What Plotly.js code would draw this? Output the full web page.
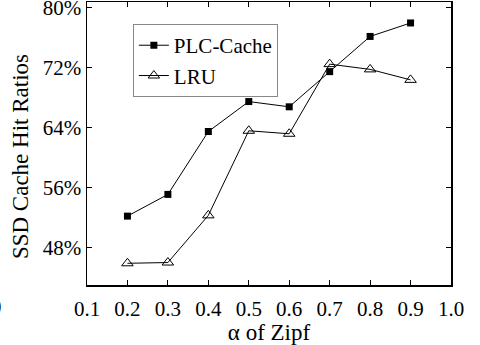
<!DOCTYPE html>
<html>
<head>
<meta charset="utf-8">
<script src="https://cdn.plot.ly/plotly-3.0.1.min.js"></script>
<style>html,body{margin:0;padding:0;background:#fff;}#chart{width:480px;height:345px;}</style>
</head>
<body>
<div id="chart"></div>
<script>
var alphaValues = [0.2, 0.3, 0.4, 0.5, 0.6, 0.7, 0.8, 0.9];
var plcCache = [52.2, 55.1, 63.5, 67.5, 66.8, 71.5, 76.2, 78.0];
var lru = [45.9, 46.0, 52.3, 63.6, 63.2, 72.5, 71.8, 70.4];
var xTickVals = [0.1, 0.2, 0.3, 0.4, 0.5, 0.6, 0.7, 0.8, 0.9, 1.0];
var xTickText = ["0.1", "0.2", "0.3", "0.4", "0.5", "0.6", "0.7", "0.8", "0.9", "1.0"];
var yTickVals = [48, 56, 64, 72, 80];
var yTickText = ["48%", "56%", "64%", "72%", "80%"];

var font = "Liberation Serif";
var traces = [
  {x: alphaValues, y: plcCache, name: "PLC-Cache", mode: "lines+markers",
   line: {color: "#000", width: 1},
   marker: {symbol: "square", size: 7, color: "#000"}},
  {x: alphaValues, y: lru, name: "LRU", mode: "lines+markers",
   line: {color: "#000", width: 1},
   marker: {symbol: "triangle-up-open", size: 10, color: "#000", line: {width: 1}}}
];
var layout = {
  width: 480, height: 345,
  margin: {l: 87, r: 29, t: 2, b: 60},
  paper_bgcolor: "#fff", plot_bgcolor: "#fff",
  font: {family: font, size: 20, color: "#000"},
  showlegend: true,
  legend: {x: 0.126, y: 0.922, xanchor: "left", yanchor: "top",
    bordercolor: "#888", borderwidth: 1, bgcolor: "#fff",
    font: {family: font, size: 21}, tracegroupgap: 0, itemwidth: 30},
  xaxis: {range: [0.1, 1.0], tickvals: xTickVals, ticktext: xTickText,
    ticks: "inside", ticklen: 5, tickwidth: 1, tickcolor: "#000",
    showline: true, linecolor: "#000", linewidth: 1.5, mirror: "ticks",
    showgrid: false, zeroline: false, ticklabelstandoff: 4,
    tickfont: {family: font, size: 21},
    title: {text: "α of Zipf", font: {family: font, size: 23}, standoff: 8}},
  yaxis: {range: [43.0, 80.8], tickvals: yTickVals, ticktext: yTickText,
    ticks: "inside", ticklen: 5, tickwidth: 1, tickcolor: "#000",
    showline: true, linecolor: "#000", linewidth: 1.5, mirror: "ticks",
    showgrid: false, zeroline: false, ticklabeloverflow: "allow",
    tickfont: {family: font, size: 21}},
  annotations: [
    {text: "SSD Cache Hit Ratios", xref: "paper", yref: "paper",
     x: -0.184, y: 0.452, xanchor: "center", yanchor: "middle",
     textangle: -90, showarrow: false, font: {family: font, size: 23}},
    {text: "(b)", xref: "paper", yref: "paper",
     x: -0.228, y: -0.07, xanchor: "right", yanchor: "middle",
     showarrow: false, font: {family: font, size: 22}}
  ]
};
Plotly.newPlot("chart", traces, layout, {staticPlot: true});
</script>
</body>
</html>
